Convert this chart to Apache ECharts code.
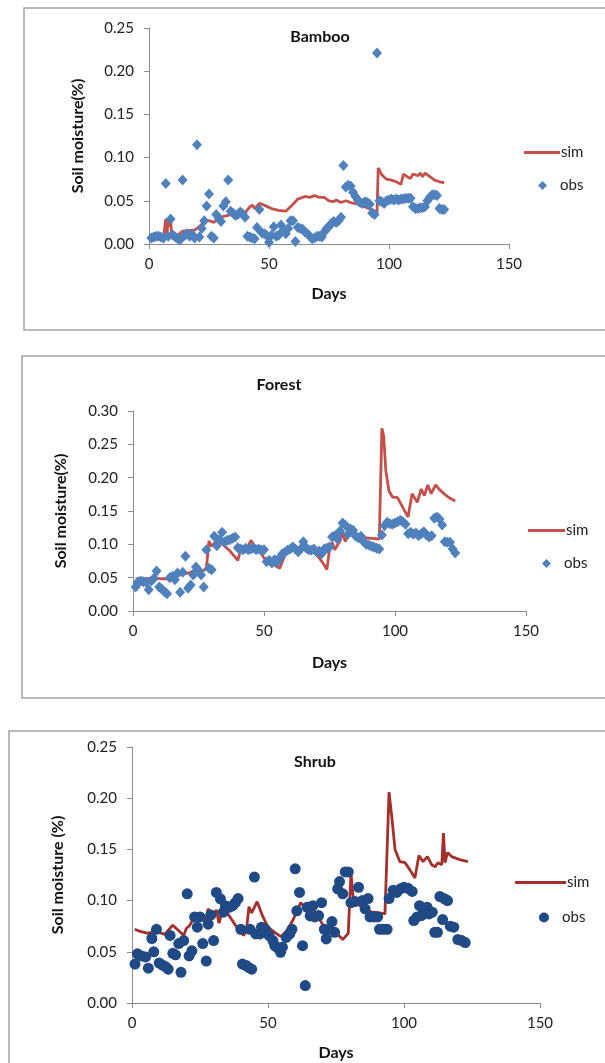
<!DOCTYPE html>
<html><head><meta charset="utf-8">
<script src="https://cdn.jsdelivr.net/npm/echarts@6/dist/echarts.min.js"></script>
<style>html,body{margin:0;padding:0;background:#fff}#c{width:605px;height:1063px}</style>
</head><body><div id="c"></div>
<script>
// ---------- DATA ----------
const xTicks = [0, 50, 100, 150];
const titles = ['Bamboo', 'Forest', 'Shrub'];
const yNames = ['Soil moisture(%)', 'Soil moisture(%)', 'Soil moisture (%)'];
const yMax = [0.25, 0.30, 0.25];

const bambooSim = [[1,0.006],[6,0.006],[7,0.029],[7.5,0.012],[8,0.029],[8.5,0.020],[9,0.029],[9.5,0.008],[11,0.006],[12,0.010],[14,0.015],[19,0.016],[21,0.020],[23,0.026],[25,0.027],[27,0.025],[29,0.030],[31,0.032],[33,0.033],[35,0.036],[38,0.036],[40,0.036],[42,0.043],[43,0.045],[44,0.041],[46,0.047],[48,0.045],[51,0.041],[54,0.039],[57,0.038],[60,0.046],[62,0.052],[65,0.055],[67,0.054],[69,0.056],[71,0.054],[73,0.054],[75,0.050],[77,0.049],[78,0.051],[80,0.048],[82,0.050],[84,0.048],[87,0.046],[90,0.043],[93,0.039],[95,0.036],[95.5,0.088],[97,0.080],[99,0.075],[101,0.074],[103,0.072],[105,0.069],[106,0.081],[108,0.077],[109,0.076],[110,0.081],[112,0.079],[113,0.082],[114,0.078],[115,0.082],[117,0.078],[119,0.074],[121,0.072],[123,0.071]];
const bambooObs = [[1,0.007],[2,0.008],[3,0.009],[4,0.009],[5,0.008],[6,0.007],[7,0.070],[8,0.009],[9,0.029],[10,0.010],[11,0.008],[12,0.006],[13,0.005],[14,0.074],[15,0.010],[16,0.012],[17,0.009],[18,0.011],[19,0.007],[20,0.115],[21,0.008],[22,0.018],[23,0.027],[24,0.044],[25,0.058],[26,0.009],[27,0.007],[28,0.034],[29,0.030],[30,0.026],[31,0.044],[32,0.049],[33,0.074],[34,0.038],[35,0.036],[36,0.033],[37,0.034],[38,0.037],[39,0.035],[40,0.031],[41,0.009],[42,0.008],[43,0.007],[44,0.006],[45,0.019],[46,0.040],[47,0.013],[48,0.012],[49,0.010],[50,0.002],[51,0.010],[52,0.020],[53,0.009],[54,0.010],[55,0.022],[56,0.016],[57,0.012],[58,0.018],[59,0.027],[60,0.027],[61,0.003],[62,0.019],[63,0.018],[64,0.017],[65,0.014],[66,0.012],[67,0.009],[68,0.006],[69,0.007],[70,0.009],[71,0.009],[72,0.008],[73,0.014],[74,0.018],[75,0.020],[76,0.024],[77,0.026],[78,0.025],[79,0.027],[80,0.031],[81,0.091],[82,0.066],[83,0.068],[84,0.067],[85,0.060],[86,0.055],[87,0.051],[88,0.048],[89,0.047],[90,0.049],[91,0.048],[92,0.046],[93,0.036],[94,0.034],[95,0.221],[96,0.050],[97,0.049],[98,0.047],[99,0.050],[100,0.051],[101,0.052],[102,0.051],[103,0.052],[104,0.051],[105,0.052],[106,0.052],[107,0.053],[108,0.053],[109,0.053],[110,0.043],[111,0.041],[112,0.041],[113,0.042],[114,0.042],[115,0.043],[116,0.050],[117,0.054],[118,0.057],[119,0.057],[120,0.056],[121,0.041],[122,0.040],[123,0.040]];

const forestSim = [[1,0.048],[8,0.049],[14,0.048],[17,0.053],[20,0.056],[22,0.058],[24,0.063],[26,0.058],[28,0.064],[29,0.105],[30,0.097],[32,0.106],[34,0.101],[37,0.090],[40,0.076],[41,0.090],[42,0.097],[43,0.089],[45,0.106],[47,0.094],[49,0.086],[51,0.073],[54,0.069],[56,0.064],[58,0.084],[60,0.093],[63,0.092],[66,0.094],[69,0.090],[71,0.080],[73,0.069],[74,0.062],[75,0.092],[76,0.103],[77,0.092],[79,0.105],[80,0.118],[81,0.104],[83,0.120],[86,0.112],[88,0.110],[91,0.109],[94,0.108],[95,0.274],[95.7,0.262],[96.5,0.210],[97.7,0.180],[99,0.171],[101,0.170],[103,0.155],[105,0.141],[106.5,0.176],[108.5,0.163],[110,0.183],[111.2,0.173],[112.5,0.189],[113.8,0.176],[115.5,0.189],[117,0.182],[119,0.175],[121,0.169],[123,0.165]];
const forestObs = [[1,0.036],[2,0.044],[3,0.045],[4,0.044],[5,0.043],[6,0.032],[7,0.045],[8,0.049],[9,0.060],[10,0.036],[11,0.033],[12,0.029],[13,0.026],[14,0.050],[15,0.052],[16,0.047],[17,0.057],[18,0.028],[19,0.058],[20,0.082],[21,0.034],[22,0.039],[23,0.054],[24,0.066],[25,0.061],[26,0.054],[27,0.036],[28,0.092],[29,0.064],[30,0.062],[31,0.112],[32,0.098],[33,0.107],[34,0.118],[35,0.104],[36,0.106],[37,0.107],[38,0.109],[39,0.111],[40,0.095],[41,0.093],[42,0.092],[43,0.094],[44,0.092],[45,0.093],[46,0.095],[47,0.092],[48,0.093],[49,0.091],[50,0.092],[51,0.074],[52,0.076],[53,0.072],[54,0.077],[55,0.073],[56,0.080],[57,0.086],[58,0.088],[59,0.091],[60,0.093],[61,0.096],[62,0.093],[63,0.089],[64,0.093],[65,0.104],[66,0.095],[67,0.092],[68,0.091],[69,0.093],[70,0.089],[71,0.090],[72,0.086],[73,0.093],[74,0.094],[75,0.096],[76,0.111],[77,0.113],[78,0.108],[79,0.120],[80,0.132],[81,0.129],[82,0.115],[83,0.123],[84,0.121],[85,0.112],[86,0.110],[87,0.112],[88,0.104],[89,0.100],[90,0.099],[91,0.097],[92,0.096],[93,0.094],[94,0.093],[95,0.114],[96,0.128],[97,0.133],[98,0.131],[99,0.130],[100,0.132],[101,0.134],[102,0.136],[103,0.134],[104,0.130],[105,0.116],[106,0.118],[107,0.115],[108,0.117],[109,0.113],[110,0.116],[111,0.119],[112,0.114],[113,0.111],[114,0.113],[115,0.139],[116,0.141],[117,0.138],[118,0.129],[119,0.104],[120,0.103],[121,0.103],[122,0.093],[123,0.087]];

const shrubSim = [[1,0.072],[3,0.070],[6,0.068],[8,0.070],[10,0.069],[12,0.067],[14,0.073],[15,0.076],[17,0.071],[19,0.066],[20,0.073],[21,0.075],[23,0.084],[25,0.087],[26,0.082],[27,0.079],[28,0.092],[29,0.088],[30,0.085],[31,0.091],[32,0.078],[33,0.088],[34,0.093],[35,0.088],[37,0.080],[39,0.072],[41,0.066],[42,0.070],[43,0.094],[44,0.088],[46,0.099],[48,0.085],[50,0.074],[52,0.070],[54,0.066],[55,0.065],[57,0.071],[59,0.080],[61,0.092],[62,0.098],[64,0.092],[66,0.094],[68,0.086],[70,0.077],[72,0.072],[74,0.068],[76,0.066],[77.5,0.062],[79.5,0.068],[80.5,0.127],[81.5,0.098],[83,0.097],[85,0.092],[88,0.089],[91,0.088],[93,0.087],[94.5,0.206],[95.5,0.182],[96.7,0.150],[98.5,0.138],[100.4,0.137],[102.2,0.130],[104,0.122],[105.5,0.144],[107,0.138],[108.6,0.143],[110.2,0.135],[111.4,0.133],[112.5,0.137],[113.9,0.135],[114.5,0.166],[115.1,0.137],[116,0.147],[117.5,0.143],[120.5,0.140],[123.5,0.138]];
const shrubObs = [[1.1,0.038],[2,0.048],[3.5,0.046],[5,0.045],[6,0.034],[7.3,0.063],[8,0.050],[9,0.072],[10,0.039],[11.2,0.037],[12.3,0.0355],[13.3,0.033],[14,0.066],[15,0.0485],[16,0.047],[17.2,0.058],[18,0.030],[19,0.061],[20.3,0.1066],[21,0.046],[22,0.051],[23,0.084],[24,0.074],[25,0.084],[26,0.058],[27.3,0.041],[28,0.077],[29,0.086],[30,0.061],[31,0.108],[32.5,0.1017],[33.6,0.0887],[34.3,0.095],[35.7,0.0935],[37,0.095],[38,0.098],[39,0.102],[40,0.072],[40.6,0.038],[42,0.0365],[43,0.0345],[44,0.033],[43.4,0.072],[45,0.123],[45.5,0.0675],[47,0.0675],[47.6,0.074],[49,0.072],[50.4,0.066],[51.8,0.061],[52.5,0.056],[53.2,0.0545],[54.6,0.0495],[55.3,0.0545],[56.7,0.064],[58,0.0675],[58.8,0.072],[60,0.131],[60.6,0.090],[61.6,0.108],[62.7,0.056],[63.7,0.017],[64.4,0.0935],[65.5,0.085],[66.5,0.095],[67.2,0.084],[68.6,0.0854],[69.7,0.098],[70.7,0.072],[71.4,0.0626],[72.5,0.072],[73.5,0.0795],[74.5,0.069],[75.6,0.1115],[76.3,0.1186],[77.5,0.1066],[78.4,0.128],[79.5,0.128],[80.5,0.098],[82,0.099],[83.3,0.113],[84.7,0.100],[85.7,0.092],[86.8,0.102],[87.5,0.084],[89,0.084],[90.3,0.084],[91,0.072],[92.4,0.072],[93.8,0.072],[94.5,0.102],[96,0.110],[97.3,0.108],[98.7,0.1115],[100,0.113],[101.5,0.112],[103,0.109],[103.6,0.0805],[104.8,0.084],[105.7,0.095],[106.4,0.0854],[107.5,0.0887],[108.5,0.0935],[109.2,0.087],[110.4,0.0887],[111.3,0.069],[112.3,0.069],[113.2,0.104],[114.2,0.0815],[114.9,0.1017],[116,0.100],[117,0.075],[118.3,0.074],[119.8,0.062],[121.2,0.061],[122.5,0.059]];

// ---------- LAYOUT ----------
const FONT = 'Lato, "Open Sans", sans-serif';
const grids = [
  {left:149, top:28, width:360, height:216},
  {left:133, top:411, width:393, height:200},
  {left:132, top:747, width:408, height:256}
];
const titlePos = [[315,24],[274,372],[310,749]];
const yNameGap = [63, 64, 66];
const xNameGap = [42, 44, 42];
const simColors = ['#C4504C', '#C4504C', '#A3302B'];
const obsColors = ['#4F81BD', '#4F81BD', '#1F4A86'];
const obsSymbols = ['diamond', 'diamond', 'circle'];
const obsSizes = [[10,11],[10,11],[11,11]];
const legendSim = [[524,145,36],[528,523,37],[515,875,51]];
const legendObs = [[538,178],[542,556],[539,910]];
const simData = [bambooSim, forestSim, shrubSim];
const obsData = [bambooObs, forestObs, shrubObs];
const borders = [[24,8,700,322],[22,356,700,342],[9,731,700,400]];

const option = {
  backgroundColor:'#fff',
  animation:false,
  textStyle:{fontFamily:FONT},
  title: titles.map((t,i)=>({text:t, left:titlePos[i][0], top:titlePos[i][1], textAlign:'center',
    textStyle:{fontFamily:FONT, fontSize:16, fontWeight:'bold', color:'#111'}})),
  grid: grids.map(g=>Object.assign({containLabel:false}, g)),
  xAxis: grids.map((g,i)=>({
    type:'value', gridIndex:i, min:xTicks[0], max:xTicks[xTicks.length-1], interval:xTicks[1]-xTicks[0],
    name:'Days', nameLocation:'middle', nameGap:xNameGap[i],
    nameTextStyle:{fontFamily:FONT, fontSize:16, fontWeight:'bold', color:'#111'},
    axisLine:{show:true, lineStyle:{color:'#8c8c8c', width:1}},
    axisTick:{show:true, length:5, lineStyle:{color:'#8c8c8c'}},
    axisLabel:{fontFamily:FONT, fontSize:15, color:'#222', margin:13, showMinLabel:true, showMaxLabel:true},
    splitLine:{show:false}
  })),
  yAxis: grids.map((g,i)=>({
    type:'value', gridIndex:i, min:0, max:yMax[i], interval:0.05,
    name:yNames[i], nameLocation:'middle', nameGap:yNameGap[i], nameRotate:90,
    nameTextStyle:{fontFamily:FONT, fontSize:16, fontWeight:'bold', color:'#111'},
    axisLine:{show:true, lineStyle:{color:'#8c8c8c', width:1}},
    axisTick:{show:true, length:5, lineStyle:{color:'#8c8c8c'}},
    axisLabel:{fontFamily:FONT, fontSize:15, color:'#222', margin:15, formatter:v=>v.toFixed(2), showMinLabel:true, showMaxLabel:true},
    splitLine:{show:false}
  })),
  legend: [],
  series: [],
  graphic: borders.map(b=>({type:'rect', silent:true, z:-10, shape:{x:b[0], y:b[1], width:b[2], height:b[3]},
    style:{fill:'none', stroke:'#a3a3a3', lineWidth:1.5}}))
};

const keys = ['b','f','s'];
for (let i=0;i<3;i++){
  option.series.push({
    name:'sim_'+keys[i], type:'line', xAxisIndex:i, yAxisIndex:i, data:simData[i],
    symbol:'none', smooth:false, lineStyle:{color:simColors[i], width:2.8}, itemStyle:{color:simColors[i]}, z:2
  });
  option.series.push({
    name:'obs_'+keys[i], type:'scatter', xAxisIndex:i, yAxisIndex:i, data:obsData[i],
    symbol:obsSymbols[i], symbolSize:obsSizes[i], itemStyle:{color:obsColors[i], opacity:1}, z:3
  });
  option.legend.push({
    data:[{name:'sim_'+keys[i], icon:'rect', itemStyle:{color:simColors[i]}}], orient:'vertical',
    left:legendSim[i][0], top:legendSim[i][1], padding:0,
    itemWidth:legendSim[i][2], itemHeight:3, selectedMode:false,
    formatter:n=>n.split('_')[0],
    textStyle:{fontFamily:FONT, fontSize:15, color:'#222', padding:[0,0,0,-4]}
  });
  option.legend.push({
    data:[{name:'obs_'+keys[i], icon:obsSymbols[i]}], orient:'vertical', left:legendObs[i][0], top:legendObs[i][1], padding:0,
    itemWidth:obsSymbols[i]==='circle'?10:9, itemHeight:obsSymbols[i]==='circle'?10:9, selectedMode:false,
    formatter:n=>n.split('_')[0],
    textStyle:{fontFamily:FONT, fontSize:15, color:'#222', padding:[0,0,0,8]}
  });
}

const chart = echarts.init(document.getElementById('c'), null, {renderer:'canvas'});
chart.setOption(option);
</script></body></html>
